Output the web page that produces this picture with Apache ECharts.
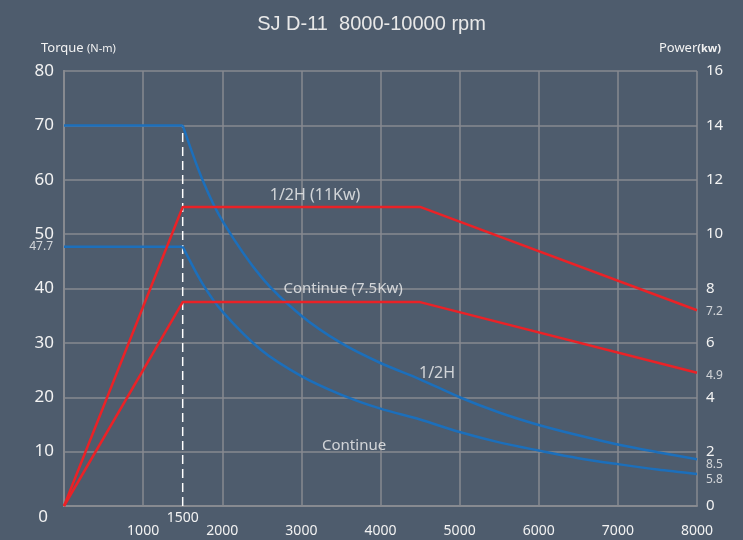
<!DOCTYPE html>
<html><head><meta charset="utf-8">
<script src="https://cdn.jsdelivr.net/npm/echarts@6/dist/echarts.min.js"></script>
<style>html,body{margin:0;padding:0;background:#4e5c6d}#c{width:743px;height:540px}</style>
</head><body><div id="c"></div>
<script>
const rpm = [1500, 1750, 2000, 2500, 3000, 3500, 4000, 4500, 5000, 5500, 6000, 6500, 7000, 7500, 8000];
const torqueHalfH = [70, 60.0, 52.5, 42.0, 35.0, 30.0, 26.3, 23.3, 20.0, 17.2, 14.9, 13.0, 11.3, 9.9, 8.6];
const torqueCont = [47.7, 40.9, 35.8, 28.6, 23.9, 20.5, 17.9, 15.9, 13.6, 11.7, 10.2, 8.8, 7.7, 6.7, 5.9];
const torqueBaseRpm = [0, 1500];
const torqueBaseHalfH = 70;
const torqueBaseCont = 47.7;
const powerRpm = [0, 1500, 4500, 8000];
const powerHalfH = [0, 11, 11, 7.2];
const powerCont = [0, 7.5, 7.5, 4.9];
const xTicks = [0, 1000, 2000, 3000, 4000, 5000, 6000, 7000, 8000];
const baseSpeedTick = 1500;
const endLabels = ['8.5', '5.8'];

const FONT = 'Noto Sans';
const grid = '#878a90';
const blue = '#1c6fbb';
const red = '#ea2227';
const txt = '#f2f2f2';

const zip = (xs, ys) => xs.map((x, i) => [x, ys[i]]);

const chart = echarts.init(document.getElementById('c'));
chart.setOption({
  backgroundColor: '#4e5c6d',
  animation: false,
  title: {
    text: 'SJ D-11  8000-10000 rpm', left: 'center', top: 9,
    textStyle: { color: '#e8e8e8', fontSize: 20, fontWeight: 'normal', fontFamily: 'Liberation Sans' }
  },
  graphic: [
    { type: 'text', left: 41, top: 42, style: {
      text: '{a|Torque }{b|(N-m)}', fill: txt,
      rich: { a: { fontSize: 13, fontFamily: FONT, fill: txt }, b: { fontSize: 11, fontFamily: FONT, fill: txt } } } },
    { type: 'text', right: 22, top: 42, style: {
      text: '{a|Power}{b|(kw)}', fill: txt,
      rich: { a: { fontSize: 13, fontFamily: FONT, fill: txt }, b: { fontSize: 11, fontFamily: FONT, fill: txt, fontWeight: 'bold' } } } }
  ],
  grid: { left: 64, right: 46, top: 71, bottom: 34, containLabel: false },
  xAxis: [{
    type: 'value', min: xTicks[0], max: xTicks[xTicks.length - 1], interval: 1000,
    axisLine: { show: true, onZero: false, lineStyle: { color: grid, width: 2 } },
    axisTick: { show: false },
    splitLine: { show: true, lineStyle: { color: grid, width: 1.5 } },
    axisLabel: { margin: 18, color: txt, fontSize: 14, fontFamily: FONT,
      formatter: v => (v === 0 ? '' : String(v)) }
  }, {
    type: 'value', min: 0, max: 8000, interval: 500, position: 'bottom',
    axisLine: { show: false }, axisTick: { show: false }, splitLine: { show: false },
    axisLabel: { margin: 5, color: txt, fontSize: 14, fontFamily: FONT,
      formatter: v => (v === baseSpeedTick ? String(v) : '') }
  }],
  yAxis: [{
    type: 'value', min: 0, max: 80, interval: 10,
    axisLine: { show: true, onZero: false, lineStyle: { color: grid, width: 2 } },
    axisTick: { show: false },
    splitLine: { show: true, lineStyle: { color: grid, width: 1.5 } },
    axisLabel: { margin: 10, color: txt, fontSize: 17, fontFamily: FONT,
      formatter: v => (v === 0 ? '{z|0}' : String(v)),
      rich: { z: { fontSize: 17, fontFamily: FONT, color: txt, padding: [22, 6, 0, 0] } } }
  }, {
    type: 'value', min: 0, max: 16, interval: 2, position: 'right',
    axisLine: { show: true, lineStyle: { color: grid, width: 2 } },
    axisTick: { show: false }, splitLine: { show: false },
    axisLabel: { margin: 9, color: txt, fontSize: 15, fontFamily: FONT }
  }],
  series: [
    { type: 'line', name: 'dash', data: [[baseSpeedTick, 0], [baseSpeedTick, torqueBaseHalfH]], symbol: 'none',
      lineStyle: { color: '#ffffff', width: 1.5, type: [9, 5] }, z: 1 },
    { type: 'line', data: zip(torqueBaseRpm, [torqueBaseHalfH, torqueBaseHalfH]), symbol: 'none', lineStyle: { color: blue, width: 2.5 } },
    { type: 'line', data: zip(torqueBaseRpm, [torqueBaseCont, torqueBaseCont]), symbol: 'none', lineStyle: { color: blue, width: 2.5 } },
    { type: 'line', data: zip(rpm, torqueHalfH), symbol: 'none', smooth: 0.3, lineStyle: { color: blue, width: 2.5 } },
    { type: 'line', data: zip(rpm, torqueCont), symbol: 'none', smooth: 0.3, lineStyle: { color: blue, width: 2.5 } },
    { type: 'line', yAxisIndex: 1, data: zip(powerRpm, powerHalfH), symbol: 'none', lineStyle: { color: red, width: 2.5 }, z: 3 },
    { type: 'line', yAxisIndex: 1, data: zip(powerRpm, powerCont), symbol: 'none', lineStyle: { color: red, width: 2.5 }, z: 3 },
    { type: 'scatter', symbolSize: 0, silent: true, z: 5,
      label: { show: true, position: 'inside', color: txt, fontSize: 15, fontFamily: FONT, formatter: p => p.data.value[2] },
      data: [
        { value: [3173, 57.2, '1/2H (11Kw)'], label: { fontSize: 16 } },
        { value: [3527, 39.9, 'Continue (7.5Kw)'] },
        { value: [4715, 24.3, '1/2H'], label: { fontSize: 16 } },
        { value: [3666, 11.0, 'Continue'] }
      ] },
    { type: 'scatter', symbolSize: 0, silent: true, z: 5,
      label: { show: true, position: 'left', distance: 11, color: txt, fontSize: 12, fontFamily: FONT, formatter: p => String(p.data[1]) },
      data: [[0, torqueBaseCont]] },
    { type: 'scatter', symbolSize: 0, silent: true, z: 5, yAxisIndex: 1,
      label: { show: true, position: 'right', distance: 9, color: txt, fontSize: 12, fontFamily: FONT,
        formatter: p => String(p.data.value[1]) },
      data: [
        { value: [8000, powerHalfH[3]], label: { offset: [0, 1] } },
        { value: [8000, powerCont[3]], label: { offset: [0, 3] } }
      ] },
    { type: 'scatter', symbolSize: 0, silent: true, z: 5,
      label: { show: true, position: 'right', distance: 9, color: txt, fontSize: 12, fontFamily: FONT,
        formatter: p => p.data.value[2] },
      data: [
        { value: [8000, torqueHalfH[torqueHalfH.length - 1], endLabels[0]], label: { offset: [0, 5] } },
        { value: [8000, torqueCont[torqueCont.length - 1], endLabels[1]], label: { offset: [0, 6] } }
      ] }
  ]
});
</script></body></html>
